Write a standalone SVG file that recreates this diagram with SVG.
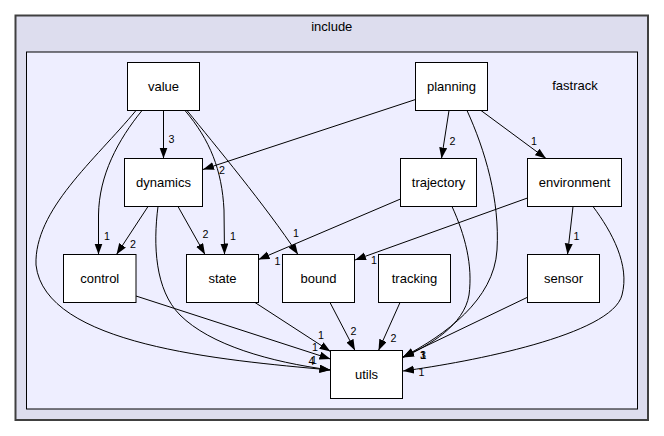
<svg xmlns="http://www.w3.org/2000/svg" width="664" height="436" viewBox="0 0 664 436">
<style>
.node rect{fill:#ffffff;stroke:#000000;stroke-width:1}
.node text{font-family:"Liberation Sans",Arial,sans-serif;font-size:13px;text-anchor:middle;fill:#000}
.edges path{fill:none;stroke:#000;stroke-width:1;marker-end:url(#arr)}
.lbl{font-family:"Liberation Sans",Arial,sans-serif;font-size:10.7px;text-anchor:middle;fill:#000}
.ctext{font-family:"Liberation Sans",Arial,sans-serif;font-size:13px;text-anchor:middle;fill:#000}
</style>
<defs>
<marker id="arr" markerUnits="userSpaceOnUse" markerWidth="12" markerHeight="9" refX="11" refY="4" orient="auto">
<path d="M0,0 L11,4 L0,8 z" fill="#000"/>
</marker>
</defs>
<rect width="664" height="436" fill="#ffffff"/>
<g id="cluster-include">
<rect x="15.5" y="15.5" width="632.5" height="404.5" fill="#ddddee" stroke="#404040" stroke-width="2"/>
<text class="ctext" x="331.75" y="30.5">include</text>
</g>
<g id="cluster-fastrack">
<rect x="26.5" y="52" width="611" height="357" fill="#eeeeff" stroke="#000" stroke-width="1"/>
<text class="ctext" x="575" y="89.5">fastrack</text>
</g>
<g class="edges" id="edges">
<path d="M163.5,110.5 L163.5,158.5"/>
<path d="M142,110.5 C118,140 99,175 98.5,215 L98.5,254.5"/>
<path d="M136,110.5 C95,160 34,210 36,265 C45,345 220,360 330.5,370"/>
<path d="M158,206.5 C153,245 155,290 180,315 C210,345 270,362 330.5,370"/>
<path d="M136,296 L330.5,359"/>
<path d="M255,302.5 L330.5,351.5"/>
<path d="M330,302.5 L355,350.5"/>
<path d="M400,302.5 L378.5,350.5"/>
<path d="M528,297 L403,357"/>
<path d="M467,110.5 C485,150 500,200 497,250 C494,300 445,335 403,357"/>
<path d="M452,206.5 C465,235 473,265 469,295 C464,325 430,345 403,357.5"/>
<path d="M593,206.5 C612,232 630,265 622,295 C612,335 470,362 403,371"/>
<path d="M185,110.5 C210,140 222,170 224,210 L224.5,254.5"/>
<path d="M187,110.5 C215,145 265,205 298,254.5"/>
<path d="M415.5,99.5 L203,169.5"/>
<path d="M449,110.5 L441.5,158.5"/>
<path d="M481,110.5 L546,158.5"/>
<path d="M148,206.5 L116.5,254.5"/>
<path d="M178,206.5 L205,254.5"/>
<path d="M400.5,199 L258.5,259.5"/>
<path d="M527.5,198 L355,260"/>
<path d="M573,206.5 L567.5,254.5"/>
<text class="lbl" x="171.5" y="143">3</text>
<text class="lbl" x="222" y="174">2</text>
<text class="lbl" x="107" y="240">1</text>
<text class="lbl" x="133" y="248">2</text>
<text class="lbl" x="205.5" y="238">2</text>
<text class="lbl" x="233" y="240">1</text>
<text class="lbl" x="296" y="237">1</text>
<text class="lbl" x="277.5" y="264.5">1</text>
<text class="lbl" x="374" y="264">1</text>
<text class="lbl" x="576.5" y="240">1</text>
<text class="lbl" x="452.5" y="145">2</text>
<text class="lbl" x="534" y="144.5">1</text>
<text class="lbl" x="321" y="339">1</text>
<text class="lbl" x="353.5" y="334.5">2</text>
<text class="lbl" x="393.5" y="342">2</text>
<text class="lbl" x="315" y="351">1</text>
<text class="lbl" x="311.5" y="364.5">4</text>
<text class="lbl" x="314" y="364">1</text>
<text class="lbl" x="423" y="359">1</text>
<text class="lbl" x="423" y="359">3</text>
<text class="lbl" x="423.5" y="359">1</text>
<text class="lbl" x="421.5" y="376">1</text>
</g>
<g id="node-value" class="node"><rect x="127.5" y="62.5" width="72" height="48"/><text x="163.5" y="91">value</text></g>
<g id="node-planning" class="node"><rect x="415.5" y="62.5" width="72" height="48"/><text x="451.5" y="91">planning</text></g>
<g id="node-dynamics" class="node"><rect x="124.5" y="158.5" width="78" height="48"/><text x="163.5" y="187">dynamics</text></g>
<g id="node-trajectory" class="node"><rect x="400.5" y="158.5" width="76" height="48"/><text x="438.5" y="187">trajectory</text></g>
<g id="node-environment" class="node"><rect x="527.5" y="158.5" width="94" height="48"/><text x="574.5" y="187">environment</text></g>
<g id="node-control" class="node"><rect x="63.5" y="254.5" width="72.5" height="48"/><text x="99.75" y="283">control</text></g>
<g id="node-state" class="node"><rect x="186.5" y="254.5" width="72" height="48"/><text x="222.5" y="283">state</text></g>
<g id="node-bound" class="node"><rect x="282.5" y="254.5" width="72" height="48"/><text x="318.5" y="283">bound</text></g>
<g id="node-tracking" class="node"><rect x="378.5" y="254.5" width="72" height="48"/><text x="414.5" y="283">tracking</text></g>
<g id="node-sensor" class="node"><rect x="527.5" y="254.5" width="72" height="48"/><text x="563.5" y="283">sensor</text></g>
<g id="node-utils" class="node"><rect x="330.5" y="350.5" width="72" height="48"/><text x="366.5" y="379">utils</text></g>
</svg>
